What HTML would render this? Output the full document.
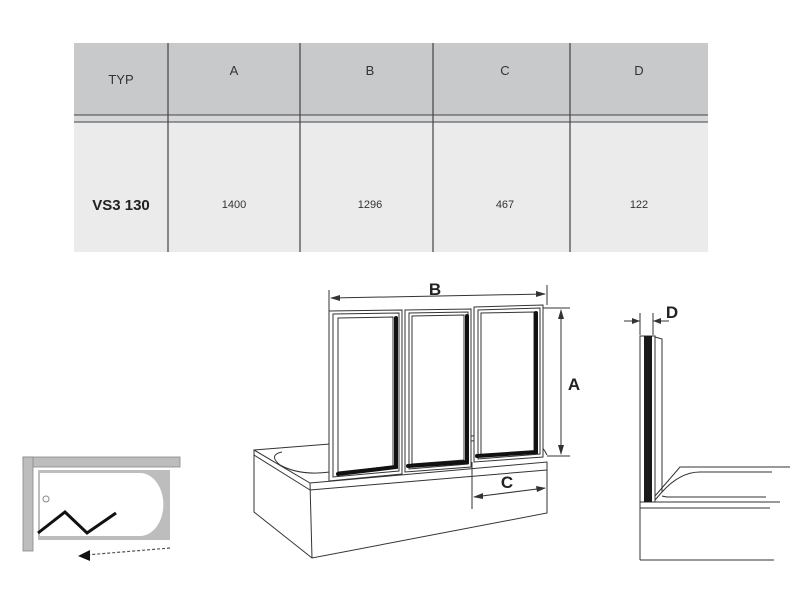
<!DOCTYPE html>
<html><head><style>
body{margin:0;background:#fff;}
svg{display:block;font-family:"Liberation Sans",Arial,sans-serif;}
</style></head><body>
<svg width="800" height="600" viewBox="0 0 800 600">
<!-- table -->
<rect x="74" y="43" width="634" height="72" fill="#c8c9cb"/>
<rect x="74" y="115" width="634" height="7" fill="#d6d7d8"/>
<rect x="74" y="122" width="634" height="130" fill="#ebebeb"/>
<line x1="74" y1="115" x2="708" y2="115" stroke="#444" stroke-width="1"/>
<line x1="74" y1="122" x2="708" y2="122" stroke="#444" stroke-width="1"/>
<g stroke="#444" stroke-width="1.2">
<line x1="168" y1="43" x2="168" y2="252"/>
<line x1="300" y1="43" x2="300" y2="252"/>
<line x1="433" y1="43" x2="433" y2="252"/>
<line x1="570" y1="43" x2="570" y2="252"/>
</g>
<g fill="#333" font-size="13" text-anchor="middle">
<text x="121" y="84">TYP</text>
<text x="234" y="75">A</text>
<text x="370" y="75">B</text>
<text x="505" y="75">C</text>
<text x="639" y="75">D</text>
</g>
<g fill="#333" font-size="11" text-anchor="middle">
<text x="234" y="208">1400</text>
<text x="370" y="208">1296</text>
<text x="505" y="208">467</text>
<text x="639" y="208">122</text>
</g>
<text x="121" y="210" font-size="15" font-weight="bold" fill="#222" text-anchor="middle">VS3 130</text>

<!-- bathtub -->
<g fill="none" stroke="#333" stroke-width="1">
<polygon points="254,450 254,512 312,558 547,513 547,462 310,483" fill="#fff"/>
<line x1="254" y1="455" x2="310" y2="490"/>
<line x1="310" y1="483" x2="312" y2="558"/>
<line x1="310" y1="490" x2="547" y2="470"/>
<path d="M282,452 Q268,455 280,465 Q300,476 330,472"/>
<path d="M254,450 L330,444 M470,436 L520,434 Q540,440 547,455"/>
<path d="M470,441 L515,439"/>
</g>
<!-- panels -->
<g fill="#fff" stroke="#333" stroke-width="1">
<polygon points="329,311 402,310 402,474 329,481"/>
<polygon points="333,314 399,313 399,471 333,477"/>
<polygon points="405,310 471,309 471,467 405,472"/>
<polygon points="409,313 468,312 468,464 409,469"/>
<polygon points="474,307 543,305 543,457 474,462"/>
<polygon points="478,310 540,308 540,454 478,459"/>
<polygon points="338,318 393,317 393,466 338,472"/>
<polygon points="412,316 464,315 464,460 412,464"/>
<polygon points="481,313 534,312 534,452 481,455"/>
</g>
<g stroke="#111" stroke-width="4" fill="none" stroke-linecap="round">
<polyline points="396,318 396,467 338,474"/>
<polyline points="467,316 467,462 408,466"/>
<polyline points="536,313 536,452 477,456"/>
</g>
<!-- dims -->
<g stroke="#333" stroke-width="1" fill="none">
<line x1="329" y1="290" x2="329" y2="311"/>
<line x1="547" y1="285" x2="547" y2="305"/>
<line x1="331" y1="298" x2="545" y2="294"/>
<line x1="543" y1="308" x2="570" y2="308"/>
<line x1="547" y1="456" x2="570" y2="456"/>
<line x1="561" y1="310" x2="561" y2="454"/>
<line x1="472" y1="462" x2="472" y2="509"/>
<line x1="474" y1="497" x2="545" y2="488"/>
</g>
<g fill="#333">
<polygon points="330,298 340,295 340,301"/>
<polygon points="546,294 536,291 536,297"/>
<polygon points="561,309 558,319 564,319"/>
<polygon points="561,455 558,445 564,445"/>
<polygon points="473,497 483,493 483,499"/>
<polygon points="546,488 536,486 537,492"/>
</g>
<g font-size="17" font-weight="bold" fill="#222" text-anchor="middle">
<text x="435" y="295">B</text>
<text x="574" y="390">A</text>
<text x="507" y="488">C</text>
<text x="672" y="318">D</text>
</g>

<!-- side view -->
<g fill="none" stroke="#333" stroke-width="1">
<line x1="640" y1="313" x2="640" y2="335"/>
<line x1="653" y1="313" x2="653" y2="335"/>
<line x1="624" y1="321" x2="640" y2="321"/>
<line x1="653" y1="321" x2="669" y2="321"/>
<rect x="640" y="336" width="15" height="166" fill="#fff"/>
<polygon points="655,337 662,339 662,492 655,500" fill="#fff"/>
<path d="M655,496 L680,467 L790,467"/>
<path d="M662,492 Q680,472 700,472 L772,472"/>
<path d="M662,496 Q666,497 668,497 L766,497"/>
<line x1="640" y1="502" x2="780" y2="502"/>
<line x1="640" y1="508" x2="770" y2="508"/>
<line x1="640" y1="502" x2="640" y2="560"/>
<line x1="640" y1="560" x2="774" y2="560"/>
</g>
<rect x="644" y="336" width="8" height="166" fill="#1a1a1a"/>
<g fill="#333">
<polygon points="640,321 632,318 632,324"/>
<polygon points="653,321 661,318 661,324"/>
</g>

<!-- plan -->
<rect x="23" y="457" width="157" height="10" fill="#bdbdbd" stroke="#888" stroke-width="0.8"/>
<rect x="23" y="457" width="10" height="94" fill="#bdbdbd" stroke="#888" stroke-width="0.8"/>
<rect x="38" y="470" width="132" height="70" fill="#bdbdbd"/>
<path d="M40,473 L140,473 A23,31 0 0 1 140,536 L40,536 Z" fill="#fff"/>
<circle cx="46" cy="499" r="3" fill="#fff" stroke="#888"/>
<polyline points="38,533 65,512 87,533 116,513" fill="none" stroke="#111" stroke-width="3"/>
<line x1="170" y1="548" x2="86" y2="555" stroke="#555" stroke-width="1.2" stroke-dasharray="3,2"/>
<polygon points="78,556 90,550 90,561" fill="#111"/>
</svg>
</body></html>
